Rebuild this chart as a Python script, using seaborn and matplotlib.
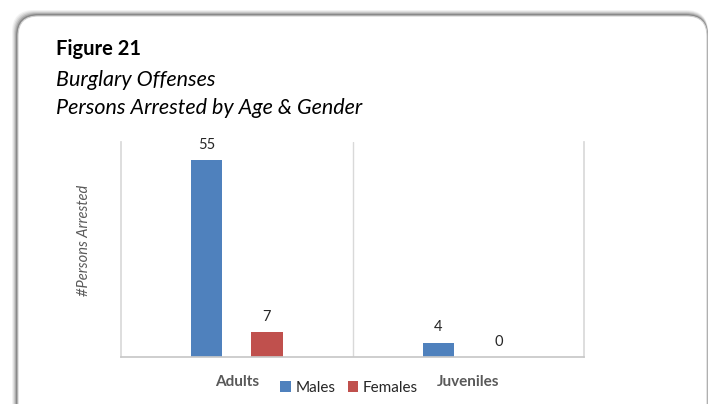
import numpy as np
import pandas as pd
import matplotlib.pyplot as plt
from matplotlib.patches import FancyBboxPatch
from matplotlib.transforms import IdentityTransform
import seaborn as sns

sns.set_theme(style='white')
plt.rcParams['font.family'] = ['Lato', 'DejaVu Sans']

# data
age_groups = ['Adults', 'Juveniles']
genders = ['Males', 'Females']
males = [55, 4]
females = [7, 0]
colors = ['#4F81BD', '#C0504D']

df = pd.DataFrame({
    'Age': age_groups * 2,
    'Gender': ['Males'] * 2 + ['Females'] * 2,
    'Count': males + females,
})

fig = plt.figure(figsize=(7.09, 4.04), dpi=100)
fig.patch.set_facecolor('white')

# soft shadow + rounded card
for i, a in enumerate([0.05, 0.07, 0.10, 0.14, 0.2]):
    off = 6 - i
    fig.patches.append(FancyBboxPatch((18 - off, -40), 690 + off, 428 + off,
                                      boxstyle='round,pad=0,rounding_size=22',
                                      transform=IdentityTransform(),
                                      facecolor='black', edgecolor='none', alpha=a, zorder=0))
fig.patches.append(FancyBboxPatch((18, -40), 689, 428,
                                  boxstyle='round,pad=0,rounding_size=20',
                                  transform=IdentityTransform(),
                                  facecolor='white', edgecolor='#d0d0d0', lw=0.8, zorder=1))

ax = fig.add_axes([0.1707, 0.1163, 0.653, 0.532])
ax.set_zorder(2)
ax.patch.set_alpha(0)

sns.barplot(data=df, x='Age', y='Count', hue='Gender', hue_order=genders,
            palette=colors, width=0.52, gap=0.48, ax=ax, saturation=1,
            edgecolor='none')

for c in ax.containers:
    ax.bar_label(c, fmt='%d', padding=6, fontsize=10.5, color='#262626')

ax.set_ylim(0, 60)
ax.set_xlim(-0.5, 1.5)
ax.set_yticks([])
ax.axvline(0.5, color='#d9d9d9', lw=1)
for s in ['left', 'right']:
    ax.spines[s].set_color('#d9d9d9')
ax.spines['top'].set_visible(False)
ax.spines['bottom'].set_color('#c8c8c8')

ax.set_xlabel('')
ax.set_ylabel('#Persons Arrested', fontsize=10.5, style='italic', color='#595959')
ax.yaxis.set_label_coords(-0.065, 0.545)
ax.tick_params(axis='x', length=0, pad=13)
for t in ax.get_xticklabels():
    t.set_fontweight('bold')
    t.set_color('#595959')
    t.set_fontsize(11)

ax.legend(loc='center', bbox_to_anchor=(349 / 709, 1 - 388 / 404),
          bbox_transform=fig.transFigure, ncol=2, frameon=False, fontsize=11,
          handlelength=0.7, handleheight=0.7, handletextpad=0.3, columnspacing=0.8,
          borderpad=0)

fig.text(56 / 709, 1 - 49 / 404, 'Figure 21', fontsize=14.5, fontweight='bold', color='black', va='center')
fig.text(56 / 709, 1 - 80 / 404, 'Burglary Offenses', fontsize=15.5, style='italic', color='black', va='center')
fig.text(56 / 709, 1 - 108 / 404, 'Persons Arrested by Age & Gender', fontsize=15.5, style='italic', color='black', va='center')

fig.savefig('out.png', dpi=100)
